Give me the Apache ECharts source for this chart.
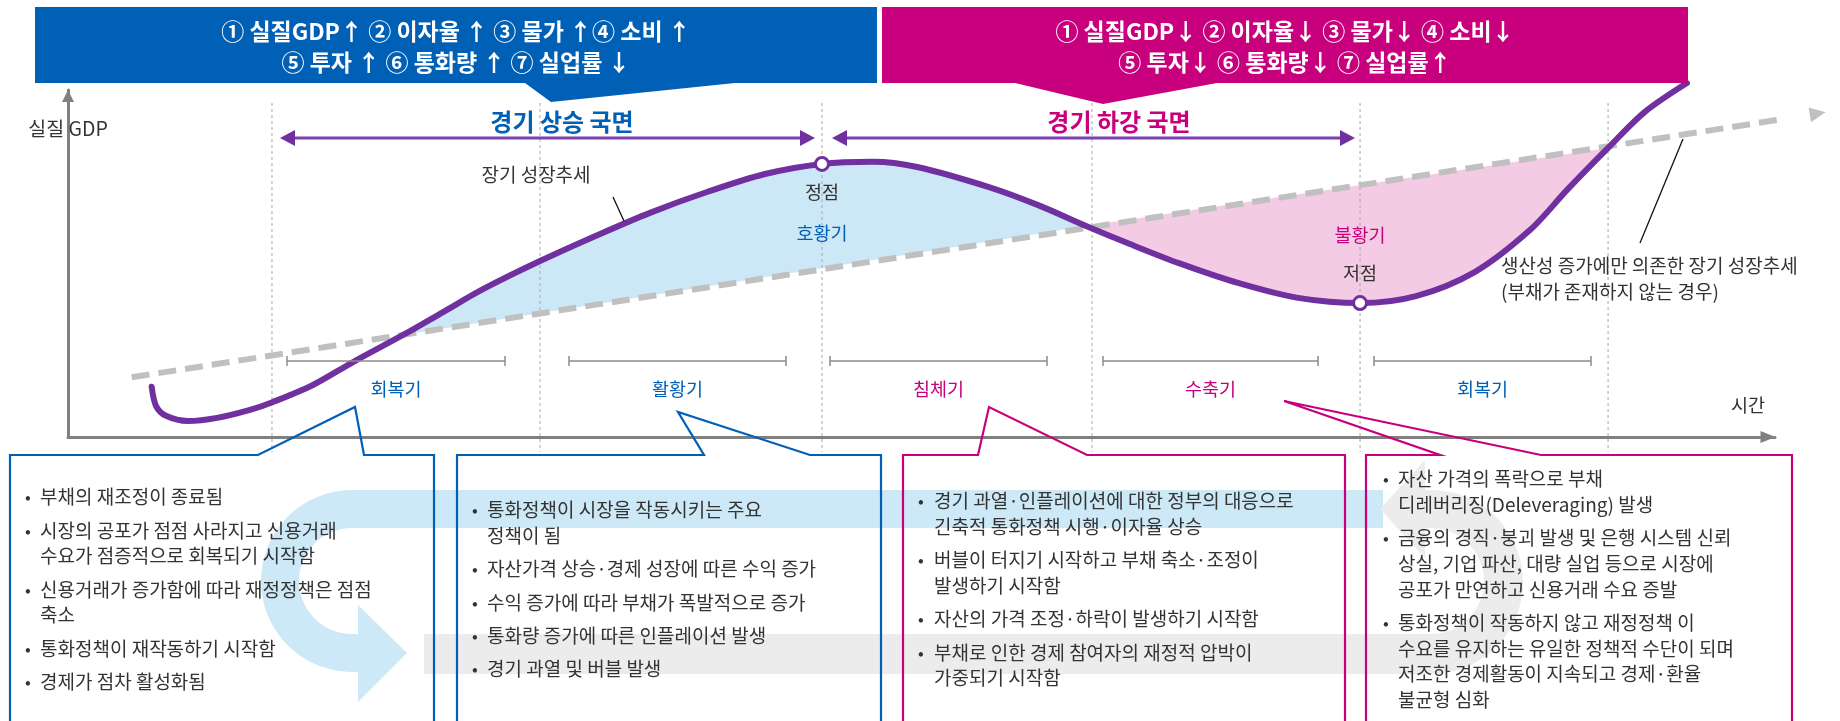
<!DOCTYPE html>
<html><head><meta charset="utf-8">
<script src="https://cdn.jsdelivr.net/npm/echarts/dist/echarts.min.js"></script>
<style>html,body{margin:0;padding:0;background:#fff}#c{width:1840px;height:721px}</style>
</head><body><div id="c"></div>
<script>
// ---------------- data ----------------
// business cycle curve (time t, real GDP level v) in arbitrary axis units
const curveT = [4.90,5.16,5.74,7.03,8.73,10.66,12.01,14.35,16.70,19.63,21.97,24.31,27.65,31.17,34.09,37.43,40.83,44.17,47.16,49.74,53.95,56.94,59.64,62.21,65.08,68.54,72.06,75.69,78.97,82.43,85.66,87.82,90.22,92.38,94.84];
const curveV = [14.5,8.9,6.1,4.6,5.5,7.8,10.1,15.0,21.6,29.4,36.0,42.6,50.7,58.5,64.6,70.6,75.8,78.7,79.3,77.8,72.0,66.6,60.8,55.6,50.1,44.4,40.1,38.6,40.6,47.6,59.7,71.2,83.3,93.7,102.0];
// long-term growth trend (dashed)
const trendT = [3.73, 102.5];
const trendV = [17.2, 93.2];
// peak and trough
const turnT = [44.17, 75.69];
const turnV = [78.7, 38.6];
// phase boundaries (vertical dotted lines)
const boundaryT = [11.95, 27.65, 44.17, 59.99, 75.69, 90.22];
// shaded gaps between curve and trend: [first index, last index] of curve points
const gapRanges = [[9, 22], [22, 32]];

// texts
const headerUp = ['① 실질GDP↑ ② 이자율 ↑ ③ 물가 ↑④ 소비 ↑', '⑤ 투자 ↑ ⑥ 통화량 ↑ ⑦ 실업률 ↓'];
const headerDown = ['① 실질GDP↓ ② 이자율↓ ③ 물가↓ ④ 소비↓', '⑤ 투자↓ ⑥ 통화량↓ ⑦ 실업률↑'];
const phaseTitles = ['경기 상승 국면', '경기 하강 국면'];
const stageNames = ['회복기', '활황기', '침체기', '수축기', '회복기'];
const box1Items = [['부채의 재조정이 종료됨'], ['시장의 공포가 점점 사라지고 신용거래', '수요가 점증적으로 회복되기 시작함'], ['신용거래가 증가함에 따라 재정정책은 점점', '축소'], ['통화정책이 재작동하기 시작함'], ['경제가 점차 활성화됨']];
const box2Items = [['통화정책이 시장을 작동시키는 주요', '정책이 됨'], ['자산가격 상승·경제 성장에 따른 수익 증가'], ['수익 증가에 따라 부채가 폭발적으로 증가'], ['통화량 증가에 따른 인플레이션 발생'], ['경기 과열 및 버블 발생']];
const box3Items = [['경기 과열·인플레이션에 대한 정부의 대응으로', '긴축적 통화정책 시행·이자율 상승'], ['버블이 터지기 시작하고 부채 축소·조정이', '발생하기 시작함'], ['자산의 가격 조정·하락이 발생하기 시작함'], ['부채로 인한 경제 참여자의 재정적 압박이', '가중되기 시작함']];
const box4Items = [['자산 가격의 폭락으로 부채', '디레버리징(Deleveraging) 발생'], ['금융의 경직·붕괴 발생 및 은행 시스템 신뢰', '상실, 기업 파산, 대량 실업 등으로 시장에', '공포가 만연하고 신용거래 수요 증발'], ['통화정책이 작동하지 않고 재정정책 이', '수요를 유지하는 유일한 정책적 수단이 되며', '저조한 경제활동이 지속되고 경제·환율', '불균형 심화']];

// ---------------- style ----------------
const FONT = '"Noto Sans CJK KR","Noto Sans",sans-serif';
const PURPLE = '#7030a0', BLUE = '#0060b6', MAG = '#c8007d', TXT = '#333333';
const FILLS = ['#cce8f6', '#f4cbe4'];
const DECOR = [
  {d: 'M1383,490 L352,490 A91,91 0 0 0 352,672 L358,672 L358,702 L407,653 L358,605 L358,634 L352,634 A53,53 0 0 1 352,528 L1383,528 Z', fill: '#cde8f6'},
  {d: 'M424,634 L1431,634 A53,53 0 0 0 1431,528 L1425,528 L1425,558 L1380,509 L1425,460 L1425,490 L1431,490 A92,92 0 0 1 1431,674 L424,674 Z', fill: '#ececec'}
];

const G = [];
function txt(x, y, text, o) {
  o = o || {};
  G.push({type: 'text', z: o.z || 20, silent: true, style: {
    x: x, y: y, text: text, fill: o.color || TXT, fontSize: o.size || 18, fontFamily: FONT,
    fontWeight: o.weight || 'normal', align: o.align || 'center', verticalAlign: 'middle',
    textAlign: o.align || 'center', textVerticalAlign: 'middle'}});
}
function seg(x1, y1, x2, y2, o) {
  G.push({type: 'line', z: o.z || 6, silent: true, shape: {x1: x1, y1: y1, x2: x2, y2: y2},
    style: {stroke: o.color, lineWidth: o.width || 1}});
}
function poly(points, fill, z) {
  G.push({type: 'polygon', z: z || 6, silent: true, shape: {points: points}, style: {fill: fill}});
}
function pline(points, color, width, z) {
  G.push({type: 'polyline', z: z || 6, silent: true, shape: {points: points}, style: {stroke: color, lineWidth: width, fill: null}});
}

// headers
poly([[35,7],[877,7],[877,83],[735,83],[551,102],[525,83],[35,83]], BLUE, 8);
poly([[882,7],[1688,7],[1688,83],[1217,83],[1103,104],[1015,83],[882,83]], MAG, 8);
txt(456, 31, headerUp[0], {color: '#fff', size: 23, weight: 'bold'});
txt(456, 62, headerUp[1], {color: '#fff', size: 23, weight: 'bold'});
txt(1285, 31, headerDown[0], {color: '#fff', size: 23, weight: 'bold'});
txt(1285, 62, headerDown[1], {color: '#fff', size: 23, weight: 'bold'});

// phase arrows
function dblArrow(x1, x2, y) {
  seg(x1 + 10, y, x2 - 10, y, {color: '#7b3fae', width: 3});
  poly([[x1, y], [x1 + 15, y - 8], [x1 + 15, y + 8]], PURPLE, 7);
  poly([[x2, y], [x2 - 15, y - 8], [x2 - 15, y + 8]], PURPLE, 7);
}
dblArrow(280, 815, 138);
dblArrow(832, 1355, 138);
txt(562, 122, phaseTitles[0], {color: BLUE, size: 24, weight: 'bold'});
txt(1119, 122, phaseTitles[1], {color: MAG, size: 24, weight: 'bold'});

// stage brackets and names
const brackets = [[287,505],[569,786],[830,1047],[1103,1318],[1374,1591]];
const stageColors = [BLUE, BLUE, MAG, MAG, BLUE];
brackets.forEach(function (b, i) {
  pline([[b[0],356],[b[0],366],[b[0],361],[b[1],361],[b[1],356],[b[1],366]], '#8c8c8c', 1.5, 6);
  txt((b[0] + b[1]) / 2, 389, stageNames[i], {color: stageColors[i], size: 18.5});
});

// labels
txt(68, 129, '실질 GDP', {size: 19.5});
txt(1748, 405, '시간', {size: 18.5});
txt(536, 175, '장기 성장추세', {size: 19});
seg(613, 197, 624, 221, {color: '#111', width: 1.3});
txt(822, 192, '정점', {size: 18.5});
txt(822, 233, '호황기', {color: BLUE, size: 18.5});
txt(1360, 235, '불황기', {color: MAG, size: 18.5});
txt(1360, 273, '저점', {size: 18.5});
txt(1501, 266, '생산성 증가에만 의존한 장기 성장추세', {size: 19, align: 'left'});
txt(1501, 292, '(부채가 존재하지 않는 경우)', {size: 19, align: 'left'});
seg(1640, 243, 1683, 139, {color: '#111', width: 1.3});

// description boxes with callout pointers
pline([[10,730],[10,455],[258,455],[355,407],[364,455],[434,455],[434,730]], BLUE, 2.2, 8);
pline([[457,730],[457,455],[704,455],[678,412],[810,455],[881,455],[881,730]], BLUE, 2.2, 8);
pline([[903,730],[903,455],[978,455],[989,407],[1087,455],[1345,455],[1345,730]], MAG, 2.2, 8);
pline([[1366,730],[1366,455],[1440,455],[1284,401],[1541,455],[1792,455],[1792,730]], MAG, 2.2, 8);

function bullets(items, bx, tx, y0) {
  let y = y0;
  items.forEach(function (lines, i) {
    if (i > 0) y += 33.3;
    txt(bx, y, '•', {size: 17});
    lines.forEach(function (s, j) {
      if (j > 0) y += 25.7;
      txt(tx, y, s, {size: 19, align: 'left'});
    });
  });
}
bullets(box1Items, 28, 40, 497);
bullets(box2Items, 475, 487, 510);
bullets(box3Items, 921, 934, 501);
bullets(box4Items, 1386, 1398, 479);

// ---------------- chart ----------------
const curveData = curveT.map(function (t, i) { return [t, curveV[i]]; });
const trendData = [
  [trendT[0], trendV[0]],
  {value: [trendT[1], trendV[1]], symbol: 'triangle', symbolSize: [15, 16], symbolRotate: -81.1,
   itemStyle: {color: '#c0c0c0'}}
];

const chart = echarts.init(document.getElementById('c'), null, {renderer: 'canvas'});
chart.setOption({
  animation: false,
  backgroundColor: '#ffffff',
  grid: {left: 68, right: 65, top: 90, bottom: 284, containLabel: false, outerBoundsMode: 'none'},
  xAxis: {type: 'value', min: 0, max: 100, splitLine: {show: false}, axisTick: {show: false}, axisLabel: {show: false},
    axisLine: {show: true, symbol: ['none', 'triangle'], symbolSize: [12, 15], symbolOffset: [0, -7], lineStyle: {color: '#808080', width: 3}}},
  yAxis: {type: 'value', min: 0, max: 100, splitLine: {show: false}, axisTick: {show: false}, axisLabel: {show: false},
    axisLine: {show: true, symbol: ['none', 'triangle'], symbolSize: [12, 12], symbolOffset: [0, -6], lineStyle: {color: '#808080', width: 3}}},
  graphic: {elements: G},
  series: [
    {type: 'custom', z: 0, silent: true, clip: false,
     data: DECOR.map(function () { return [0, 0]; }),
     encode: {x: 0, y: 1},
     renderItem: function (params) {
       const d = DECOR[params.dataIndex];
       return {type: 'path', shape: {pathData: d.d}, style: {fill: d.fill}};
     }},
    {type: 'custom', z: 1, silent: true, clip: false,
     data: gapRanges.map(function (r) { return [curveT[r[0]], curveV[r[0]]]; }),
     encode: {x: 0, y: 1},
     renderItem: function (params, api) {
       const r = gapRanges[params.dataIndex];
       const pts = [];
       for (let k = r[0]; k <= r[1]; k++) pts.push(api.coord([curveT[k], curveV[k]]));
       return {type: 'polygon', shape: {points: pts}, style: {fill: FILLS[params.dataIndex]}};
     }},
    {type: 'custom', z: 2, silent: true, clip: false,
     data: boundaryT.map(function (t) { return [t, 0]; }),
     encode: {x: 0, y: 1},
     renderItem: function (params, api) {
       const p = api.coord([boundaryT[params.dataIndex], 0]);
       return {type: 'line', shape: {x1: p[0], y1: 103, x2: p[0], y2: 452},
         style: {stroke: '#a8a8a8', lineWidth: 1, lineDash: [3, 3]}};
     }},
    {type: 'line', z: 3, silent: true, clip: false, data: trendData, symbol: 'none', showSymbol: true,
     lineStyle: {color: '#c0c0c0', width: 6, type: [18, 9]}},
    {type: 'line', z: 4, silent: true, clip: false, data: curveData, smooth: 0.3, symbol: 'none',
     lineStyle: {color: PURPLE, width: 6, cap: 'round'}},
    {type: 'scatter', z: 5, silent: true, clip: false,
     data: turnT.map(function (t, i) { return [t, turnV[i]]; }),
     symbol: 'circle', symbolSize: 13,
     itemStyle: {color: '#ffffff', borderColor: PURPLE, borderWidth: 3, opacity: 1}}
  ]
});
</script>
</body></html>
